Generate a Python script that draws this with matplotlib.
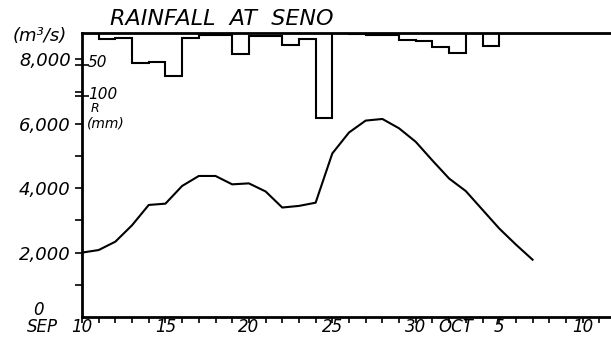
import numpy as np
import matplotlib
matplotlib.use("Agg")
import matplotlib.pyplot as plt
import matplotlib.transforms as mtransforms

# dias contados desde el 10 de septiembre
dias_caudal = list(range(0, 28))
caudal = [2000, 2080, 2340, 2850, 3480, 3520, 4070, 4380, 4380, 4120,
          4150, 3900, 3400, 3450, 3550, 5080, 5730, 6100, 6150, 5860,
          5440, 4860, 4300, 3910, 3330, 2750, 2250, 1780]

# lluvia diaria en Seno (mm), un escalón por día
lluvia = [0, 9, 8, 47, 46, 68, 8, 3, 3, 33,
          4, 4, 19, 9, 135, 0, 1, 3, 3, 11,
          12, 22, 31, 0, 21, 0, 0, 0, 0, 0, 0, 0]

ticks_x = [0, 5, 10, 15, 20, 25, 30]
etiquetas_x = ["10", "15", "20", "25", "30", "5", "10"]
ticks_y = [2000, 4000, 6000, 8000]
etiquetas_y = ["2,000", "4,000", "6,000", "8,000"]
ticks_lluvia = [50, 100]

fuente = dict(family="DejaVu Sans", style="italic")

fig = plt.figure(figsize=(6.11, 3.49), dpi=100)
ax = fig.add_axes([82 / 611, 32 / 349, 529 / 611, 284 / 349])

# -- hidrograma
ax.plot(dias_caudal, caudal, color="black", lw=1.5)
ax.set_xlim(0, 31.7)
ax.set_ylim(0, 8820)

ax.spines["right"].set_visible(False)
for lado in ["left", "bottom", "top"]:
    ax.spines[lado].set_linewidth(2)

ax.set_xticks(ticks_x)
ax.set_xticklabels(etiquetas_x, fontsize=12, **fuente)
ax.set_xticks(np.arange(0, 32), minor=True)
ax.tick_params(axis="x", which="both", direction="out", length=4, width=1.2, pad=-3)

ax.set_yticks(ticks_y)
ax.set_yticklabels(etiquetas_y, fontsize=13, **fuente)
ax.set_yticks(np.arange(1000, 9000, 1000), minor=True)
ax.tick_params(axis="y", which="both", direction="out", length=5, width=1.2, pad=3)

# textos sueltos del eje
trans_x = mtransforms.blended_transform_factory(ax.transData, ax.transAxes)
ax.text(-2.4, -0.036, "SEP", transform=trans_x, ha="center", va="center",
        fontsize=12, clip_on=False, **fuente)
ax.text(22.4, -0.036, "OCT", transform=trans_x, ha="center", va="center",
        fontsize=12, clip_on=False, **fuente)
ax.text(-2.6, 230, "0", ha="center", va="center", fontsize=12, clip_on=False, **fuente)
ax.text(-0.08, 0.99, "(m³/s)", transform=ax.transAxes, ha="center", va="center",
        fontsize=13, clip_on=False, **fuente)
ax.text(0.053, 1.015, "RAINFALL  AT  SENO", transform=ax.transAxes, ha="left",
        va="bottom", fontsize=16, clip_on=False, **fuente)

# -- lluvia colgando del borde superior
ax2 = ax.twinx()
ax2.set_ylim(284 / 0.63, 0)
ax2.stairs(lluvia, np.arange(len(lluvia) + 1), baseline=0, fill=False,
           color="black", lw=1.5)
for lado in ax2.spines:
    ax2.spines[lado].set_visible(False)
ax2.yaxis.set_ticks_position("left")
ax2.set_yticks(ticks_lluvia)
ax2.tick_params(axis="y", direction="inout", length=10, width=1.2, labelleft=False,
                labelright=False)

trans_ll = mtransforms.blended_transform_factory(ax2.transAxes, ax2.transData)
for v in ticks_lluvia:
    ax2.text(0.011, v - 3, str(v), transform=trans_ll, ha="left", va="center",
             fontsize=11, clip_on=False, **fuente)
ax2.text(0.025, 120, "R", transform=trans_ll, ha="center", va="center",
         fontsize=9, clip_on=False, **fuente)
ax2.text(0.045, 143, "(mm)", transform=trans_ll, ha="center", va="center",
         fontsize=10, clip_on=False, **fuente)

plt.savefig("out.png", dpi=100)
plt.close()
